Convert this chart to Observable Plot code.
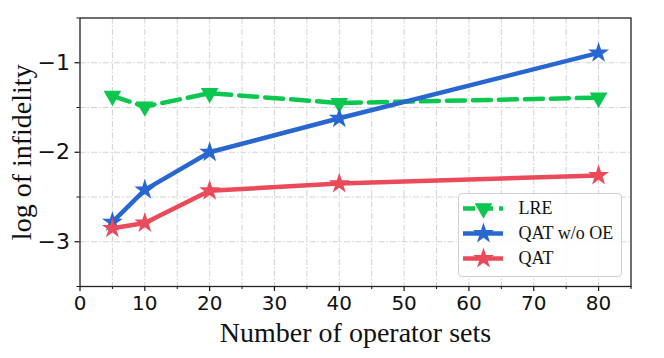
<!DOCTYPE html>
<html>
<head>
<meta charset="utf-8">
<script src="https://cdn.jsdelivr.net/npm/d3@7"></script>
<script src="https://cdn.jsdelivr.net/npm/@observablehq/plot@0.6"></script>
<style>
  html, body { margin: 0; padding: 0; background: #fff; }
  #wrap { position: relative; width: 664px; height: 358px; }
  #legend { position: absolute; left: 458px; top: 193px; width: 164px; height: 84px;
            border: 1px solid #cfcfcf; border-radius: 4px; background: rgba(255,255,255,0.85); box-sizing: border-box; }
  #legend svg { display: block; }
</style>
</head>
<body>
<div id="wrap"><div id="chart"></div><div id="legend"></div></div>
<script>
// ---- data ----
const xValues = [5, 10, 20, 40, 80];
const lreValues = [-1.37, -1.49, -1.34, -1.45, -1.39];
const qatNoOEValues = [-2.78, -2.42, -2.00, -1.62, -0.89];
const qatValues = [-2.85, -2.79, -2.43, -2.35, -2.26];
const seriesNames = ["LRE", "QAT w/o OE", "QAT"];
const seriesColors = ["#0bc64f", "#2867d0", "#ea4a59"];
const xTicks = [0, 10, 20, 30, 40, 50, 60, 70, 80];
const xMinorTicks = [5, 15, 25, 35, 45, 55, 65, 75, 85];
const yTicks = [-3, -2, -1];
const yMinorTicks = [-3.5, -2.5, -1.5, -0.5];
const xLabel = "Number of operator sets";
const yLabel = "log of infidelity";

const seriesValues = [lreValues, qatNoOEValues, qatValues];
const rows = [];
seriesNames.forEach((s, i) => xValues.forEach((x, j) => rows.push({series: s, x, y: seriesValues[i][j]})));
const colorOf = Object.fromEntries(seriesNames.map((s, i) => [s, seriesColors[i]]));
const dashOf = {"LRE": "18,8", "QAT w/o OE": null, "QAT": null};
const symOf = {"LRE": "triangle", "QAT w/o OE": "star", "QAT": "star"};
const rotOf = {"LRE": 180, "QAT w/o OE": 0, "QAT": 0};

const gridX = xTicks.concat(xMinorTicks).filter(v => v > 0 && v < 85);
const gridY = yTicks.concat(yMinorTicks).filter(v => v > -3.5 && v < -0.5);
const fmt = d3.format("d");

const marks = [
  Plot.ruleX(gridX, {stroke: "#d2d2d2", strokeWidth: 1, strokeDasharray: "6,2,1.5,2"}),
  Plot.ruleY(gridY, {stroke: "#d2d2d2", strokeWidth: 1, strokeDasharray: "6,2,1.5,2"}),
];
seriesNames.forEach(s => {
  const d = rows.filter(r => r.series === s);
  marks.push(Plot.line(d, {x: "x", y: "y", stroke: colorOf[s], strokeWidth: 4.5,
    strokeDasharray: dashOf[s] || undefined, strokeLinejoin: "round"}));
  marks.push(Plot.dot(d, {x: "x", y: "y", symbol: symOf[s], rotate: rotOf[s], r: 6.6,
    fill: colorOf[s], stroke: "none"}));
});
marks.push(
  Plot.axisX(xTicks, {tickSize: 5, tickPadding: 4, tickFormat: fmt, fontSize: 20, label: null, strokeWidth: 1.2}),
  Plot.axisX(xMinorTicks, {tickSize: 3, tickFormat: () => "", label: null}),
  Plot.axisY(yTicks, {tickSize: 5, tickPadding: 5, tickFormat: fmt, fontSize: 22, label: null, strokeWidth: 1.2}),
  Plot.axisY(yMinorTicks, {tickSize: 3, tickFormat: () => "", label: null}),
  Plot.frame({stroke: "#222", strokeWidth: 1.3}),
  Plot.text([xLabel], {frameAnchor: "bottom", dy: 47, fontSize: 28, fontFamily: "Liberation Serif", fill: "#111", lineAnchor: "middle"}),
  Plot.text([yLabel], {frameAnchor: "left", dx: -58, rotate: -90, textAnchor: "middle", fontSize: 28, fontFamily: "Liberation Serif", fill: "#111", lineAnchor: "middle"})
);

const chart = Plot.plot({
  width: 664, height: 358,
  marginLeft: 79.5, marginRight: 33.5, marginTop: 17.5, marginBottom: 72,
  style: {fontFamily: "DejaVu Sans", color: "#111", background: "#fff"},
  x: {domain: [0, 85]},
  y: {domain: [-3.5, -0.5]},
  marks
});
document.getElementById("chart").appendChild(chart);

// ---- legend (small Plot) ----
const legendRows = seriesNames.map(s => ({series: s}));
const legend = Plot.plot({
  width: 162, height: 82,
  marginLeft: 4, marginRight: 118, marginTop: 0, marginBottom: 0,
  style: {background: "transparent", fontFamily: "Liberation Serif"},
  x: {domain: [0, 1], axis: null},
  y: {type: "point", domain: seriesNames, range: [13, 64], padding: 0, axis: null},
  marks: [
    ...seriesNames.map(s => Plot.ruleY([s], {y: d => d, x1: 0, x2: 1, stroke: colorOf[s], strokeWidth: 4.5,
       strokeDasharray: s === "LRE" ? "12,6" : undefined})),
    ...seriesNames.map(s => Plot.dot([s], {y: d => d, x: 0.5, symbol: symOf[s], rotate: rotOf[s], r: 6.6, fill: colorOf[s], stroke: "none"})),
    Plot.text(legendRows, {y: "series", x: 1, text: "series", dx: 15, textAnchor: "start", fontSize: 18, fill: "#111", fontFamily: "Liberation Serif"})
  ]
});
document.getElementById("legend").appendChild(legend);
</script>
</body>
</html>
